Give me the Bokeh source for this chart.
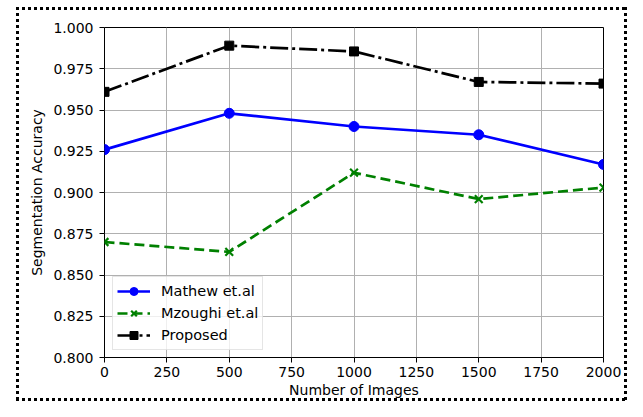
from bokeh.plotting import figure
from bokeh.models import FixedTicker, PrintfTickFormatter, Range1d
from bokeh.embed import file_html
from bokeh.resources import INLINE

images = [0, 500, 1000, 1500, 2000]
mathew = [0.926, 0.948, 0.940, 0.935, 0.917]
mzoughi = [0.870, 0.864, 0.912, 0.896, 0.903]
proposed = [0.961, 0.989, 0.9855, 0.967, 0.966]

x_ticks = [0, 250, 500, 750, 1000, 1250, 1500, 1750, 2000]
y_ticks = [0.800, 0.825, 0.850, 0.875, 0.900, 0.925, 0.950, 0.975, 1.000]

FONT = "DejaVu Sans"
FS = "14px"

W, H = 627, 401

dots_h = "repeating-linear-gradient(to right, #000 0px, #000 3px, transparent 3px, transparent 6px)"
dots_v = "repeating-linear-gradient(to bottom, #000 0px, #000 3px, transparent 3px, transparent 6px)"
border_styles = {
    "background-color": "white",
    "background-image": ", ".join([dots_h, dots_h, dots_v, dots_v]),
    "background-size": f"{W - 16}px 3px, {W - 16}px 3px, 3px {H - 7}px, 3px {H - 7}px",
    "background-position": f"16px 7px, 16px {H - 3}px, 16px 7px, {W - 3}px 7px",
    "background-repeat": "no-repeat",
}

p = figure(width=W, height=H, output_backend="svg", toolbar_location=None,
           x_range=Range1d(0, 2000), y_range=Range1d(0.8, 1.0),
           min_border_left=104, min_border_right=24, min_border_top=27, min_border_bottom=44,
           background_fill_color="white", border_fill_color=None,
           styles=border_styles)

p.outline_line_color = "black"
p.outline_line_width = 1
p.outline_line_alpha = 1

for ax in (p.xaxis[0], p.yaxis[0]):
    ax.axis_line_color = None
    ax.major_tick_line_color = "black"
    ax.major_tick_out = 5
    ax.major_tick_in = 0
    ax.minor_tick_line_color = None
    ax.major_label_text_font = FONT
    ax.major_label_text_font_size = FS
    ax.major_label_text_color = "black"
    ax.axis_label_text_font = FONT
    ax.axis_label_text_font_size = FS
    ax.axis_label_text_font_style = "normal"
    ax.axis_label_text_color = "black"

p.xaxis.ticker = FixedTicker(ticks=x_ticks)
p.yaxis.ticker = FixedTicker(ticks=y_ticks)
p.yaxis.formatter = PrintfTickFormatter(format="%.3f")
p.xaxis.axis_label = "Number of Images"
p.yaxis.axis_label = "Segmentation Accuracy"
p.xaxis.major_label_standoff = 4
p.xaxis.axis_label_standoff = 2
p.yaxis.major_label_standoff = 6
p.yaxis.axis_label_standoff = 5

p.grid.grid_line_color = "#b0b0b0"
p.grid.grid_line_width = 1

# Series
p.line(images, mathew, line_color="#0000ff", line_width=2.7, legend_label="Mathew et.al")
p.scatter(images, mathew, marker="circle", size=10, fill_color="#0000ff", line_color="#0000ff",
          legend_label="Mathew et.al")

p.line(images, mzoughi, line_color="#008000", line_width=2.7, line_dash="10 5",
       legend_label="Mzoughi et.al")
p.scatter(images, mzoughi, marker="x", size=11, line_color="#008000", line_width=2.2,
          legend_label="Mzoughi et.al")

p.line(images, proposed, line_color="black", line_width=2.7, line_dash="18 4 3 4",
       legend_label="Proposed")
p.scatter(images, proposed, marker="square", size=9, fill_color="black", line_color="black",
          legend_label="Proposed")

lg = p.legend[0]
lg.location = (8, 7)
lg.margin = 0
lg.padding = 4
lg.spacing = 2
lg.glyph_width = 33
lg.glyph_height = 20
lg.label_standoff = 11
lg.label_text_font = FONT
lg.label_text_font_size = "14.5px"
lg.label_text_color = "black"
lg.border_line_color = "#cccccc"
lg.border_line_width = 1
lg.background_fill_color = "white"
lg.background_fill_alpha = 0.8

open("out.html", "w").write(file_html(p, INLINE))
